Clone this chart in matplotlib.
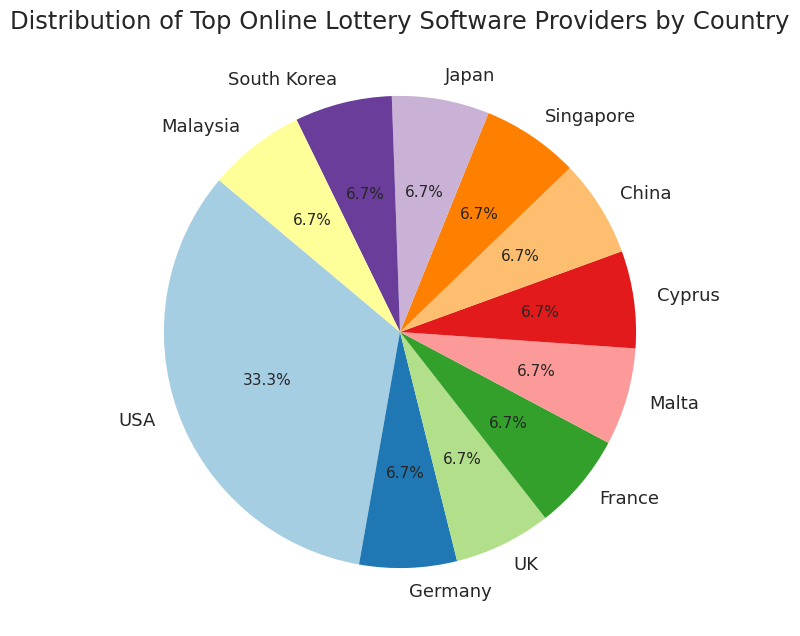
import matplotlib
matplotlib.use("Agg")
import matplotlib.pyplot as plt
import seaborn as sns

countries = ["USA", "Germany", "UK", "France", "Malta", "Cyprus",
             "China", "Singapore", "Japan", "South Korea", "Malaysia"]
counts = [5, 1, 1, 1, 1, 1, 1, 1, 1, 1, 1]

sns.set_theme(style="white")
colors = plt.cm.Paired.colors[:len(countries)]

fig = plt.figure(figsize=(8, 6.36), dpi=100)
ax = fig.add_axes([0.05, 0.014, 0.9, 0.928])
wedges, texts, autotexts = ax.pie(
    counts,
    labels=countries,
    colors=colors,
    autopct="%1.1f%%",
    startangle=140,
    wedgeprops={"linewidth": 0},
    textprops={"fontsize": 13},
)
for t in autotexts:
    t.set_fontsize(11)
ax.set_title("Distribution of Top Online Lottery Software Providers by Country",
             fontsize=17.5, pad=6)
plt.savefig("out.png")
